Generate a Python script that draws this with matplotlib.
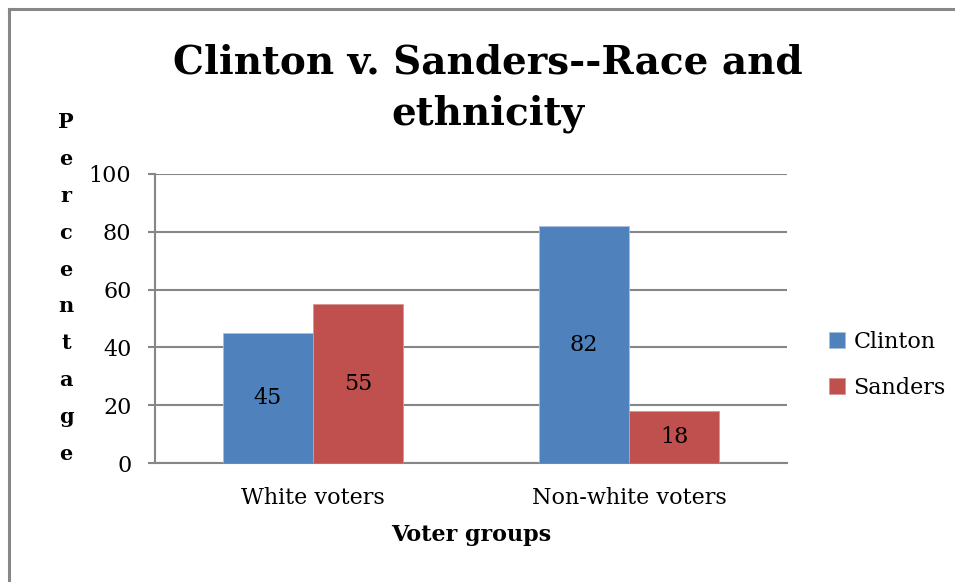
import matplotlib
matplotlib.use('Agg')
import matplotlib.pyplot as plt
from matplotlib.lines import Line2D

groups = ['White voters', 'Non-white voters']
candidates = ['Clinton', 'Sanders']
clinton = [45, 82]
sanders = [55, 18]
colors = ['#4F81BD', '#C0504D']
y_ticks = [0, 20, 40, 60, 80, 100]

plt.rcParams['font.family'] = 'DejaVu Serif'

W, H = 955, 582
fig = plt.figure(figsize=(W / 100, H / 100), dpi=100)
fig.patch.set_facecolor('white')

# outer chart border: only the top and left edges are inside the image
bx, by = 8.5 / W, 1 - 8.5 / H
fig.add_artist(Line2D([bx, bx], [0, by], transform=fig.transFigure, color='#878787', linewidth=2.2))
fig.add_artist(Line2D([bx, 1], [by, by], transform=fig.transFigure, color='#878787', linewidth=2.2))

ax = fig.add_axes([155 / W, 1 - 463 / H, (787 - 155) / W, (463 - 174) / H])

width = 0.285
xs = list(range(len(groups)))
series = [clinton, sanders]
for i, (name, vals) in enumerate(zip(candidates, series)):
    offs = (i - 0.5) * width
    bars = ax.bar([x + offs for x in xs], vals, width, color=colors[i], label=name,
                  edgecolor='#a9bfdc' if i == 0 else '#d99694', linewidth=0.6, zorder=3)
    for b, v in zip(bars, vals):
        ax.text(b.get_x() + b.get_width() / 2, v / 2, str(v), ha='center', va='center',
                fontsize=16, color='black', zorder=4)

ax.set_xlim(-0.5, 1.5)
ax.set_ylim(0, 100)
ax.set_yticks(y_ticks)
ax.yaxis.grid(True, color='#868686', linewidth=1.5, zorder=0)
ax.set_axisbelow(True)
for s in ['top', 'right']:
    ax.spines[s].set_visible(False)
ax.spines['left'].set_color('#868686')
ax.spines['left'].set_linewidth(1.5)
ax.spines['bottom'].set_color('#868686')
ax.spines['bottom'].set_linewidth(1.5)
ax.tick_params(axis='y', length=5, width=1.5, color='#868686', labelsize=16, pad=12)
ax.tick_params(axis='x', length=0, labelsize=16, pad=17)
ax.set_xticks(xs)
ax.set_xticklabels(groups)

ax.set_xlabel('Voter groups', fontsize=16, fontweight='bold', labelpad=11)

fig.text(488 / W, 1 - 88 / H, 'Clinton v. Sanders--Race and\nethnicity', ha='center',
         va='center', fontsize=28, fontweight='bold', linespacing=1.44)

fig.text(66 / W, 1 - 288 / H, '\n'.join('Percentage'), ha='center', va='center',
         fontsize=15, fontweight='bold', linespacing=2.05)

ax.legend(loc='center left', bbox_to_anchor=(1.035, 0.34), frameon=False, fontsize=16,
          handlelength=0.7, handleheight=0.7, handletextpad=0.4, labelspacing=1.1)

fig.savefig('out.png', dpi=100)
